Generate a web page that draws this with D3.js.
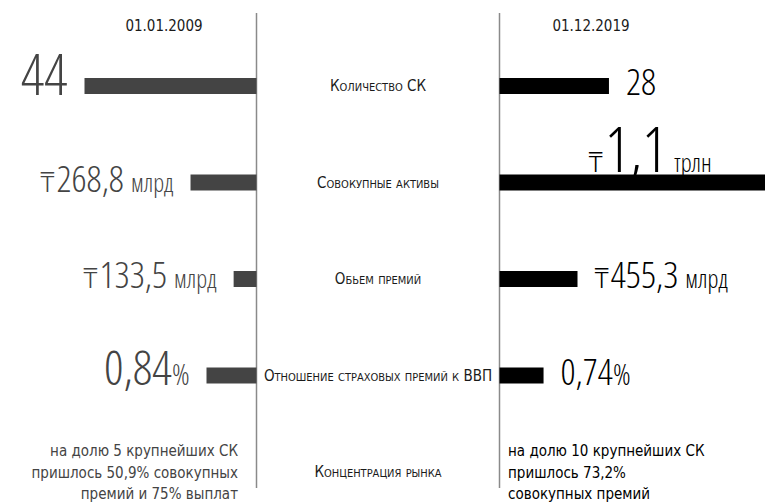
<!DOCTYPE html>
<html lang="ru">
<head>
  <meta charset="UTF-8">
  <script src="https://d3js.org/d3.v7.min.js"></script>
  <title>Страховой рынок 2009 / 2019</title>
  <style>
    body { margin: 0; background: #fff; }
    svg { display: block; }
    text { font-family: "Liberation Sans Narrow", "DejaVu Sans Condensed", "Roboto Condensed", sans-serif; font-stretch: condensed; }
    .cat { font-variant: small-caps; font-size: 15px; fill: #1a1a1a; }
    .date { font-size: 15px; fill: #1a1a1a; }
    .note { font-size: 15px; }
    .num { font-family: "Open Sans", sans-serif; font-stretch: 75%; font-weight: 300; }
    .tenge { font-family: "Noto Sans", "DejaVu Sans", sans-serif; font-stretch: normal; font-weight: 300; }
    .divider { stroke: #8a8a8a; stroke-width: 1.5px; }
  </style>
</head>
<body>
  <svg width="765" height="503"></svg>

  <script>
    const width = 765, height = 503;

    // data
    const dates = ["01.01.2009", "01.12.2019"];
    const categories = ["Количество СК", "Совокупные активы", "Обьем премий",
                        "Отношение страховых премий к ВВП", "Концентрация рынка"];
    const values2009 = [44, 268.8, 133.5, 0.84];
    const values2019 = [28, 1100, 455.3, 0.74];
    const labels2009 = ["44", "268,8", "133,5", "0,84"];
    const labels2019 = ["28", "1,1", "455,3", "0,74"];
    const prefix = ["", "₸", "₸", ""];
    const units2009 = ["", "млрд", "млрд", "%"];
    const units2019 = ["", "трлн", "млрд", "%"];
    const note2009 = ["на долю 5 крупнейших СК", "пришлось 50,9% совокупных", "премий и 75% выплат"];
    const note2019 = ["на долю 10 крупнейших СК", "пришлось 73,2%", "совокупных премий"];

    // layout
    const axisL = 256.5, axisR = 499.5;
    const rowMax = [172, 270, 78, 50];      // px for the larger value of each row
    const size2009 = [57, 37, 37, 48];
    const size2019 = [37, 62, 37, 37];
    const barH = 16;
    const colL = "#444", colR = "#000";

    const svg = d3.select("svg");
    const y = d3.scalePoint().domain(categories).range([86, 472]);

    // dividers
    svg.selectAll("line.divider")
      .data([axisL, axisR])
      .enter().append("line")
      .attr("class", "divider")
      .attr("x1", d => d).attr("x2", d => d)
      .attr("y1", 13).attr("y2", 488);

    // dates
    svg.selectAll("text.date")
      .data(dates)
      .enter().append("text")
      .attr("class", "date")
      .attr("x", (d, i) => i ? 591 : 164)
      .attr("y", 31)
      .attr("text-anchor", "middle")
      .text(d => d);

    // category labels
    svg.selectAll("text.cat")
      .data(categories)
      .enter().append("text")
      .attr("class", "cat")
      .attr("x", (axisL + axisR) / 2)
      .attr("y", d => y(d) + 5)
      .attr("text-anchor", "middle")
      .text(d => d);

    const rows = values2009.map((v, i) => {
      const s = d3.scaleLinear().domain([0, Math.max(v, values2019[i])]).range([0, rowMax[i]]);
      return {
        cat: categories[i], i,
        w09: s(v), w19: Math.min(s(values2019[i]), width - axisR + 5)
      };
    });

    // bars
    svg.append("g").selectAll("rect")
      .data(rows)
      .enter().append("rect")
      .attr("x", d => axisL - d.w09)
      .attr("y", d => y(d.cat) - barH / 2)
      .attr("width", d => d.w09)
      .attr("height", barH)
      .attr("fill", colL);

    svg.append("g").selectAll("rect")
      .data(rows)
      .enter().append("rect")
      .attr("x", axisR)
      .attr("y", d => y(d.cat) - barH / 2)
      .attr("width", d => d.w19)
      .attr("height", barH)
      .attr("fill", colR);

    function valueLabel(t, d, label, unit, size) {
      if (prefix[d.i]) t.append("tspan").attr("class", "tenge").attr("font-size", 27).text(prefix[d.i]);
      t.append("tspan").attr("font-size", size).attr("dx", prefix[d.i] ? 2 : 0).text(label);
      if (unit === "%") t.append("tspan").attr("font-size", 29).text("%");
      else if (unit) t.append("tspan").attr("font-size", 25).attr("dx", 7).text(unit);
    }

    // 2009 values
    svg.append("g").selectAll("text")
      .data(rows)
      .enter().append("text")
      .attr("class", "num")
      .attr("x", d => axisL - d.w09 - 17)
      .attr("y", d => y(d.cat) + barH / 2 + 1)
      .attr("text-anchor", "end")
      .attr("fill", colL)
      .each(function(d) { valueLabel(d3.select(this), d, labels2009[d.i], units2009[d.i], size2009[d.i]); });

    // 2019 values (the assets bar runs off the page, so its label sits above it)
    svg.append("g").selectAll("text")
      .data(rows)
      .enter().append("text")
      .attr("class", "num")
      .attr("x", d => d.i === 1 ? axisR + 89 : axisR + d.w19 + 17)
      .attr("y", d => d.i === 1 ? y(d.cat) - barH / 2 - 3 : y(d.cat) + barH / 2 + 1)
      .attr("fill", colR)
      .each(function(d) { valueLabel(d3.select(this), d, labels2019[d.i], units2019[d.i], size2019[d.i]); });

    // concentration notes
    svg.append("g").selectAll("text")
      .data(note2009)
      .enter().append("text")
      .attr("class", "note")
      .attr("x", 238)
      .attr("y", (d, i) => 456 + i * 21.5)
      .attr("text-anchor", "end")
      .attr("fill", colL)
      .text(d => d);

    svg.append("g").selectAll("text")
      .data(note2019)
      .enter().append("text")
      .attr("class", "note")
      .attr("x", 508)
      .attr("y", (d, i) => 456 + i * 21.5)
      .attr("fill", colR)
      .text(d => d);
  </script>
</body>
</html>
